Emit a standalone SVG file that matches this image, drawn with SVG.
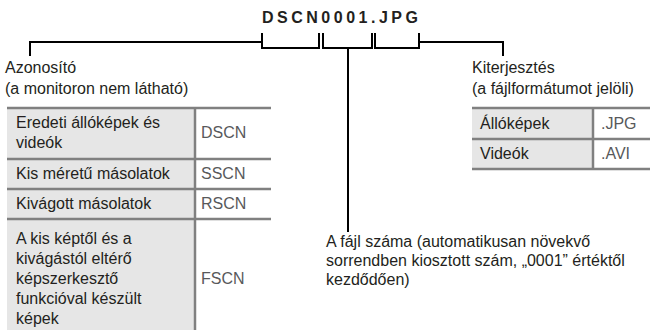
<svg xmlns="http://www.w3.org/2000/svg" width="651" height="330" viewBox="0 0 651 330">
<style>
text{font-family:"Liberation Sans",Arial,sans-serif;font-size:16px;fill:#231f20}
.title{font-weight:bold;font-size:16px;letter-spacing:3.5px}
.val{fill:#58595b}
.cell{fill:#e6e6e6}
.bd{stroke:#808080;stroke-width:2.5;fill:none}
.ln{stroke:#000;stroke-width:2;fill:none}
</style>
<rect width="651" height="330" fill="#fff"/>
<g id="title"><text class="title" x="262" y="23">DSCN0001.JPG</text></g>
<g id="connectors">
<path class="ln" d="M30,56 V42 H262"/>
<path class="ln" d="M262,33 V48 H319 V33"/>
<path class="ln" d="M323,33 V48 H372 V33"/>
<path class="ln" d="M348,48 V232"/>
<path class="ln" d="M375,33 V48 H419 V33"/>
<path class="ln" d="M419,42 H503 V56"/>
</g>
<g id="identifier">
<text x="5" y="73">Azonosító</text>
<text x="5" y="94">(a monitoron nem látható)</text>
</g>
<g id="extension">
<text x="472" y="73">Kiterjesztés</text>
<text x="472" y="94">(a fájlformátumot jelöli)</text>
</g>
<g id="number">
<text x="326" y="247">A fájl száma (automatikusan növekvő</text>
<text x="326" y="266">sorrendben kiosztott szám, „0001” értéktől</text>
<text x="326" y="285">kezdődően)</text>
</g>
<g id="left-table">
<rect class="cell" x="7" y="108" width="188" height="222"/>
<line class="bd" x1="7" y1="108" x2="271" y2="108"/>
<line class="bd" x1="7" y1="159" x2="271" y2="159"/>
<line class="bd" x1="7" y1="189" x2="271" y2="189"/>
<line class="bd" x1="7" y1="219" x2="271" y2="219"/>
<line class="bd" x1="195" y1="108" x2="195" y2="330"/>
<text x="16" y="128">Eredeti állóképek és</text>
<text x="16" y="148">videók</text>
<text class="val" x="201" y="138">DSCN</text>
<text x="16" y="179">Kis méretű másolatok</text>
<text class="val" x="201" y="179">SSCN</text>
<text x="16" y="209">Kivágott másolatok</text>
<text class="val" x="201" y="209">RSCN</text>
<text x="16" y="244">A kis képtől és a</text>
<text x="16" y="264">kivágástól eltérő</text>
<text x="16" y="284">képszerkesztő</text>
<text x="16" y="304">funkcióval készült</text>
<text x="16" y="324">képek</text>
<text class="val" x="201" y="284">FSCN</text>
</g>
<g id="right-table">
<rect class="cell" x="472" y="108" width="121" height="61"/>
<line class="bd" x1="472" y1="108" x2="650" y2="108"/>
<line class="bd" x1="472" y1="139" x2="650" y2="139"/>
<line class="bd" x1="472" y1="169" x2="650" y2="169"/>
<line class="bd" x1="593" y1="108" x2="593" y2="169"/>
<text x="480" y="129">Állóképek</text>
<text class="val" x="601" y="129">.JPG</text>
<text x="480" y="159">Videók</text>
<text class="val" x="601" y="159">.AVI</text>
</g>
</svg>
